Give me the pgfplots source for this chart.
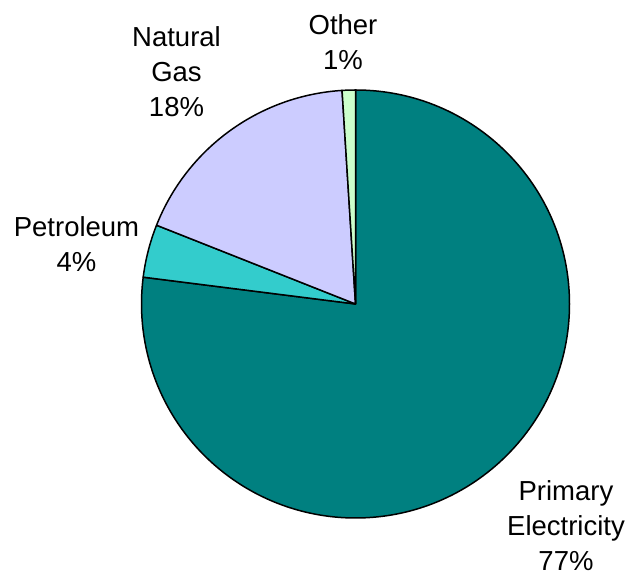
\documentclass[border=0pt]{standalone}
\usepackage{pgfplots}
\pgfplotsset{compat=1.18}
\usepackage{fontspec}
\setmainfont{Liberation Sans}
\definecolor{cPE}{HTML}{008080}
\definecolor{cPT}{HTML}{33CCCC}
\definecolor{cNG}{HTML}{CCCCFF}
\definecolor{cOT}{HTML}{CCFFCC}
\begin{document}
\begin{tikzpicture}
\begin{axis}[
  scale only axis, width=630pt, height=577pt,
  xmin=0, xmax=630, ymin=0, ymax=577,
  hide axis, clip=false,
]
\path (axis cs:0,0) (axis cs:630,577);
% shares in percent, clockwise from 12 o'clock
\gdef\start{90}
\foreach \v/\c in {77/cPE,4/cPT,18/cNG,1/cOT} {
  \pgfmathsetmacro\en{\start - \v*3.6}
  \edef\tmp{\noexpand\filldraw[fill=\c, draw=black, line width=1.5pt, line join=round]
    (axis cs:355.5,273) -- ++(\start:214pt) arc[start angle=\start, end angle=\en, radius=214pt] -- cycle;}
  \tmp
  \global\let\start\en
}
\tikzset{lab/.style={anchor=base, font=\fontsize{27.5}{35}\selectfont, inner sep=0pt}}
\node[lab] at (axis cs:76.5,340) {Petroleum};
\node[lab] at (axis cs:76.5,305) {4\%};
\node[lab] at (axis cs:566,76) {Primary};
\node[lab] at (axis cs:566,41) {Electricity};
\node[lab] at (axis cs:566,6) {77\%};
\node[lab] at (axis cs:176.5,530) {Natural};
\node[lab] at (axis cs:176.5,495) {Gas};
\node[lab] at (axis cs:176.5,460) {18\%};
\node[lab] at (axis cs:343,542) {Other};
\node[lab] at (axis cs:343,507) {1\%};
\end{axis}
\end{tikzpicture}
\end{document}
